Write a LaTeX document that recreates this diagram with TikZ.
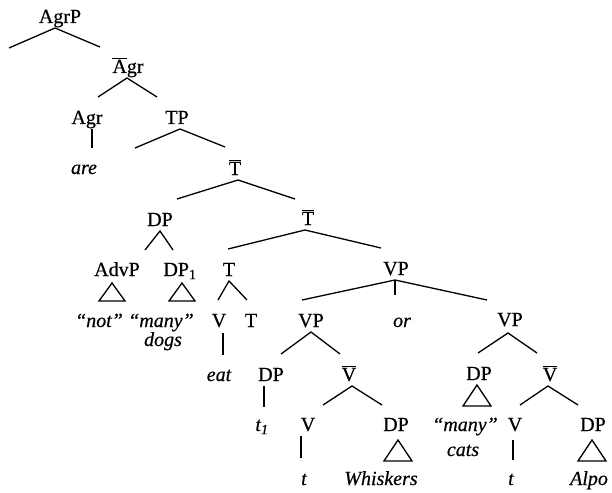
\documentclass[tikz,border=0pt]{standalone}
\usepackage{fontspec}
\setmainfont{Liberation Serif}[FakeBold=0.5]
% bar-level category label, bar over the first letter only
\newcommand{\xbar}[1]{$\overline{\mbox{#1}}$}
\newcommand{\treefont}{\fontsize{20}{24}\selectfont}
\begin{document}
\begin{tikzpicture}[x=1pt,y=-1pt,
  lab/.style={inner sep=0pt, outer sep=0pt, anchor=base, text depth=5pt, font=\treefont},
  word/.style={lab, font=\treefont\itshape},
  br/.style={line width=1.3pt, line join=miter}]
\useasboundingbox (0,0) rectangle (612,492);

% ---- labels ----
\node[lab] (agrp) at (60,23) {AgrP};
\node[lab] (agrbar) at (128,73) {\xbar{A}gr};
\node[lab] (agr) at (87,124) {Agr};
\node[word] (are) at (84,174) {are};
\node[lab] (tp) at (177,124) {TP};
\node[lab] (tbara) at (235,175) {\xbar{T}};
\node[lab] (dp) at (160,226) {DP};
\node[lab] (tbarb) at (308,225) {\xbar{T}};
\node[lab] (advp) at (117,276) {AdvP};
\node[lab] (dpone) at (180,276) {DP\textsubscript{1}};
\node[lab] (tv) at (229,276) {T};
\node[word] (not) at (99,327) {“not”};
\node[word] (manya) at (161,327) {“many”};
\node[word] (dogs) at (163,346) {dogs};
\node[lab] (vcomp) at (219,327) {V};
\node[lab] (tcomp) at (251,327) {T};
\node[lab] (vp) at (396,275) {VP};
\node[lab] (vpl) at (311,327) {VP};
\node[word] (or) at (402,327) {or};
\node[lab] (vpr) at (510,326) {VP};
\node[word] (eat) at (219,381) {eat};
\node[lab] (dpl) at (271,381) {DP};
\node[lab] (vbara) at (349,381) {\xbar{V}};
\node[lab] (dpr) at (479,380) {DP};
\node[lab] (vbarb) at (550,381) {\xbar{V}};
\node[word] (tone) at (262,431) {t\textsubscript{1}};
\node[lab] (va) at (308,431) {V};
\node[lab] (dpw) at (396,431) {DP};
\node[word] (manyb) at (465,431) {“many”};
\node[word] (cats) at (463,456) {cats};
\node[lab] (vb) at (515,431) {V};
\node[lab] (dpa) at (593,431) {DP};
\node[word] (ta) at (304,485) {t};
\node[word] (whisk) at (381,485) {Whiskers};
\node[word] (tb) at (511,485) {t};
\node[word] (alpo) at (589,485) {Alpo};

% ---- branch ends ----
\coordinate (agrp-l) at (9,48);    \coordinate (agrp-r) at (100,47);
\coordinate (agrbar-l) at (98,97); \coordinate (agrbar-r) at (157,97);
\coordinate (tp-l) at (135,148);   \coordinate (tp-r) at (225,147);
\coordinate (tbara-l) at (177,199);\coordinate (tbara-r) at (295,199);
\coordinate (dp-l) at (145,250);   \coordinate (dp-r) at (173,250);
\coordinate (tbarb-l) at (228,249);\coordinate (tbarb-r) at (381,248);
\coordinate (tv-l) at (218,300);   \coordinate (tv-r) at (247,300);
\coordinate (vp-l) at (302,300);   \coordinate (vp-m) at (395,295);
\coordinate (vp-r) at (487,300);
\coordinate (vpl-l) at (281,354);  \coordinate (vpl-r) at (340,354);
\coordinate (vpr-l) at (478,353);  \coordinate (vpr-r) at (537,353);
\coordinate (vbara-l) at (323,405);\coordinate (vbara-r) at (382,405);
\coordinate (vbarb-l) at (520,405);\coordinate (vbarb-r) at (578,405);

% ---- branches ----
\draw[br] (agrp-l) -- ([shift={(-5,0)}]agrp.south) -- (agrp-r);
\draw[br] (agrbar-l) -- ([shift={(-1,0)}]agrbar.south) -- (agrbar-r);
\draw[br] ([shift={(5,0)}]agr.south) -- ++(0,19);
\draw[br] (tp-l) -- ([shift={(3,0)}]tp.south) -- (tp-r);
\draw[br] (tbara-l) -- ([shift={(3,0)}]tbara.south) -- (tbara-r);
\draw[br] (dp-l) -- (dp.south) -- (dp-r);
\draw[br] (tbarb-l) -- ([shift={(-3,0)}]tbarb.south) -- (tbarb-r);
\draw[br] (tv-l) -- (tv.south) -- (tv-r);
\draw[br] ([shift={(4,1)}]vcomp.south) -- ++(0,22);
\draw[br] (vp-l) -- ([shift={(-1,0)}]vp.south) -- (vp-r);
\draw[br] ([shift={(-1,0)}]vp.south) -- (vp-m);
\draw[br] (vpl-l) -- (vpl.south) -- (vpl-r);
\draw[br] (vpr-l) -- ([shift={(-2,2)}]vpr.south) -- (vpr-r);
\draw[br] ([shift={(-7,0)}]dpl.south) -- ++(0,21);
\draw[br] (vbara-l) -- ([shift={(3,0)}]vbara.south) -- (vbara-r);
\draw[br] (vbarb-l) -- ([shift={(-2,0)}]vbarb.south) -- (vbarb-r);
\draw[br] ([shift={(-7,0)}]va.south) -- ++(0,22);
\draw[br] ([shift={(-2,4)}]vb.south) -- ++(0,20);

% ---- triangles for unanalysed phrases ----
\draw[br] ([shift={(-5,2)}]advp.south) -- ++(-13,18) -- ++(26,0) -- cycle;
\draw[br] ([shift={(2,2)}]dpone.south) -- ++(-13,18) -- ++(26,0) -- cycle;
\draw[br] ([shift={(-2,0)}]dpr.south) -- ++(-14,21) -- ++(28,0) -- cycle;
\draw[br] ([shift={(2,4)}]dpw.south) -- ++(-14,21) -- ++(28,0) -- cycle;
\draw[br] ([shift={(-1,4)}]dpa.south) -- ++(-14,21) -- ++(28,0) -- cycle;
\end{tikzpicture}
\end{document}
